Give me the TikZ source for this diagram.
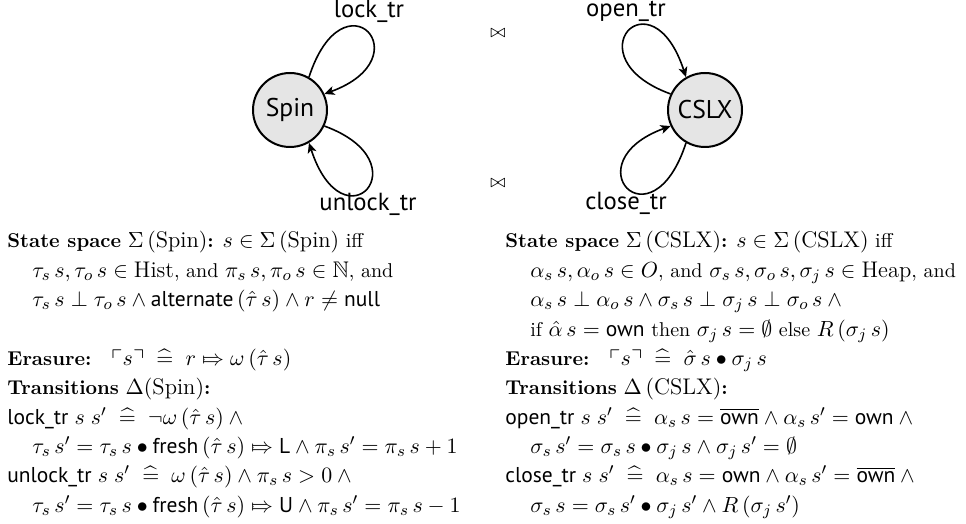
\documentclass[tikz,border=0pt]{standalone}
\usepackage{amsmath,amssymb}
\usepackage{fontspec}
\setsansfont{PT Sans}[Scale=0.95]
\usetikzlibrary{arrows.meta}
\newcommand{\sfm}[1]{\textsf{#1}}
\newcommand{\mth}[1]{{\fontsize{11.3}{13}\selectfont$#1$}}
\newcommand{\hateq}{\mathrel{\;\widehat{=}\;}}
\newcommand{\Mapto}{\mathrel{\mapstochar\Rightarrow}}
\begin{document}
\begin{tikzpicture}[x=0.5pt,y=0.5pt,
  state/.style={circle,draw,line width=1pt,fill=black!10,minimum size=37pt,inner sep=0pt,font=\fontsize{13.5}{16}\sffamily},
  lbl/.style={anchor=base,inner sep=0pt,font=\fontsize{13}{15}\sffamily},
  txt/.style={anchor=base west,inner sep=0pt,font=\fontsize{10}{12}\selectfont},
  loopy/.style={line width=0.8pt},
  >={Stealth[length=5pt,width=4.5pt,inset=1.3pt]}]
\useasboundingbox (0,0) rectangle (966,-524);
% states
\node[state] (spin) at (290,-110) {Spin};
\node[state] (cslx) at (705,-110) {CSLX};
% loops
\draw[loopy,->] (spin.60) .. controls +(72:112) and +(20:106) .. (spin.25);
\draw[loopy,->] (spin.-25) .. controls +(-20:106) and +(-72:112) .. (spin.-60);
\draw[loopy,->] (cslx.155) .. controls +(160:106) and +(108:112) .. (cslx.120);
\draw[loopy,->] (cslx.-120) .. controls +(-108:112) and +(-160:106) .. (cslx.-155);
% labels
\node[lbl] (l1) at (369,-18) {lock\_tr};
\node[lbl] (l2) at (368,-211) {unlock\_tr};
\node[lbl] (l3) at (626,-17) {open\_tr};
\node[lbl] (l4) at (626,-210) {close\_tr};
\node[font=\fontsize{9}{11}\selectfont,inner sep=0pt] (b1) at (498,-33) {$\bowtie$};
\node[font=\fontsize{9}{11}\selectfont,inner sep=0pt] (b2) at (498,-183) {$\bowtie$};
% left column
\node[txt] (a0) at (7,-248) {\textbf{State space} \mth{\Sigma\,(\mathrm{Spin})}\textbf{:} \mth{s \in \Sigma\,(\mathrm{Spin})} iff};
\node[txt] (a1) at (32,-277.3) {\mth{\tau_s\,s, \tau_o\,s \in \mathrm{Hist}}, and \mth{\pi_s\,s, \pi_o\,s \in \mathbb{N}}, and};
\node[txt] (a2) at (32,-306.7) {\mth{\tau_s\,s \perp \tau_o\,s \wedge \sfm{alternate}\,(\hat{\tau}\,s) \wedge r \neq \sfm{null}}};
\node[txt] (a4) at (7,-365.3) {\textbf{Erasure:}\quad \mth{\ulcorner s \urcorner \hateq r \Mapto \omega\,(\hat{\tau}\,s)}};
\node[txt] (a5) at (7,-394.7) {\textbf{Transitions} \mth{\Delta(\mathrm{Spin})}\textbf{:}};
\node[txt] (a6) at (7,-424) {\mth{\sfm{lock\_tr}\;s\;s' \hateq \neg\omega\,(\hat{\tau}\,s) \wedge{}}};
\node[txt] (a7) at (32,-453.3) {\mth{\tau_s\,s' = \tau_s\,s \bullet \sfm{fresh}\,(\hat{\tau}\,s) \Mapto \sfm{L} \wedge \pi_s\,s' = \pi_s\,s + 1}};
\node[txt] (a8) at (7,-482.7) {\mth{\sfm{unlock\_tr}\;s\;s' \hateq \omega\,(\hat{\tau}\,s) \wedge \pi_s\,s > 0 \wedge{}}};
\node[txt] (a9) at (32,-512) {\mth{\tau_s\,s' = \tau_s\,s \bullet \sfm{fresh}\,(\hat{\tau}\,s) \Mapto \sfm{U} \wedge \pi_s\,s' = \pi_s\,s - 1}};
% right column
\node[txt] (c0) at (505,-248) {\textbf{State space} \mth{\Sigma\,(\mathrm{CSLX})}\textbf{:} \mth{s \in \Sigma\,(\mathrm{CSLX})} iff};
\node[txt] (c1) at (530,-277.3) {\mth{\alpha_s\,s, \alpha_o\,s \in O}, and \mth{\sigma_s\,s, \sigma_o\,s, \sigma_j\,s \in \mathrm{Heap}}, and};
\node[txt] (c2) at (530,-306.7) {\mth{\alpha_s\,s \perp \alpha_o\,s \wedge \sigma_s\,s \perp \sigma_j\,s \perp \sigma_o\,s \wedge{}}};
\node[txt] (c3) at (530,-336) {if \mth{\hat{\alpha}\,s = \sfm{own}} then \mth{\sigma_j\,s = \emptyset} else \mth{R\,(\sigma_j\,s)}};
\node[txt] (c4) at (505,-365.3) {\textbf{Erasure:}\quad \mth{\ulcorner s \urcorner \hateq \hat{\sigma}\,s \bullet \sigma_j\,s}};
\node[txt] (c5) at (505,-394.7) {\textbf{Transitions} \mth{\Delta\,(\mathrm{CSLX})}\textbf{:}};
\node[txt] (c6) at (505,-424) {\mth{\sfm{open\_tr}\;s\;s' \hateq \alpha_s\,s = \overline{\sfm{own}} \wedge \alpha_s\,s' = \sfm{own} \wedge{}}};
\node[txt] (c7) at (530,-453.3) {\mth{\sigma_s\,s' = \sigma_s\,s \bullet \sigma_j\,s \wedge \sigma_j\,s' = \emptyset}};
\node[txt] (c8) at (505,-482.7) {\mth{\sfm{close\_tr}\;s\;s' \hateq \alpha_s\,s = \sfm{own} \wedge \alpha_s\,s' = \overline{\sfm{own}} \wedge{}}};
\node[txt] (c9) at (530,-512) {\mth{\sigma_s\,s = \sigma_s\,s' \bullet \sigma_j\,s' \wedge R\,(\sigma_j\,s')}};
\end{tikzpicture}
\end{document}
